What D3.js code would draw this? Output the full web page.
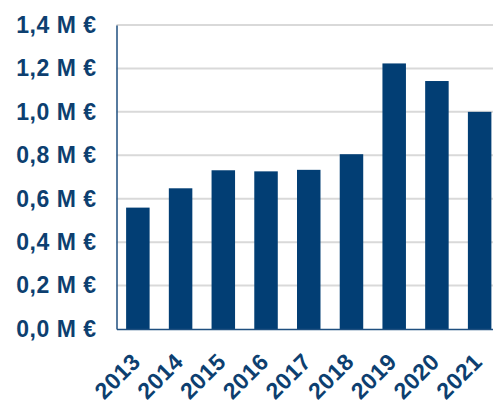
<!DOCTYPE html>
<html>
<head>
<meta charset="utf-8">
<script src="https://cdn.jsdelivr.net/npm/d3@7"></script>
<style>
  body { margin: 0; background: #fff; }
  svg { display: block; }
  .tick text { font-family: "Liberation Sans", Arial, sans-serif; font-weight: bold; font-size: 23px; letter-spacing: 0.5px; fill: #0d3f70; }
</style>
</head>
<body>
<svg id="chart"></svg>
<script>
// data (million euro)
const years = ["2013", "2014", "2015", "2016", "2017", "2018", "2019", "2020", "2021"];
const values = [0.559, 0.648, 0.731, 0.726, 0.733, 0.805, 1.223, 1.142, 1.0];
const yTicks = [0, 0.2, 0.4, 0.6, 0.8, 1.0, 1.2, 1.4];

const width = 493, height = 403;
const margin = { top: 25, right: -8, bottom: 74, left: 116.5 };
const innerW = width - margin.left - margin.right;
const innerH = height - margin.top - margin.bottom;

const svg = d3.select("#chart").attr("width", width).attr("height", height);
const chart = svg.append("g").attr("transform", `translate(${margin.left},${margin.top})`);

const x = d3.scaleBand().domain(years).range([0, innerW]).paddingInner(0.45).paddingOuter(0.225);
const y = d3.scaleLinear().domain([0, 1.4]).range([innerH, 0]);

// gridlines
chart.append("g")
  .selectAll("line")
  .data(yTicks.filter(d => d > 0))
  .join("line")
  .attr("x1", 0).attr("x2", innerW)
  .attr("y1", d => y(d)).attr("y2", d => y(d))
  .attr("stroke", "#d9d9d9").attr("stroke-width", 2);

// bars
chart.selectAll(".bar")
  .data(years.map((yr, i) => ({ yr, v: values[i] })))
  .join("rect")
  .attr("class", "bar")
  .attr("x", d => x(d.yr))
  .attr("width", x.bandwidth())
  .attr("y", d => y(d.v))
  .attr("height", d => innerH - y(d.v))
  .attr("fill", "#023e74");

// y axis
const yAxis = chart.append("g")
  .call(d3.axisLeft(y).tickValues(yTicks).tickSize(0).tickPadding(20)
    .tickFormat(d => d3.format(".1f")(d).replace(".", ",") + " M €"));
yAxis.select(".domain").attr("stroke", "#1f4f7f").attr("stroke-width", 1.5);

// x axis
const xAxis = chart.append("g")
  .attr("transform", `translate(0,${innerH})`)
  .call(d3.axisBottom(x).tickSize(0));
xAxis.select(".domain").attr("stroke", "#1f4f7f").attr("stroke-width", 1.5);
xAxis.selectAll(".tick text")
  .attr("text-anchor", "end")
  .attr("y", 0)
  .attr("dy", "0")
  .attr("transform", "translate(4,34) rotate(-45)");
</script>
</body>
</html>
